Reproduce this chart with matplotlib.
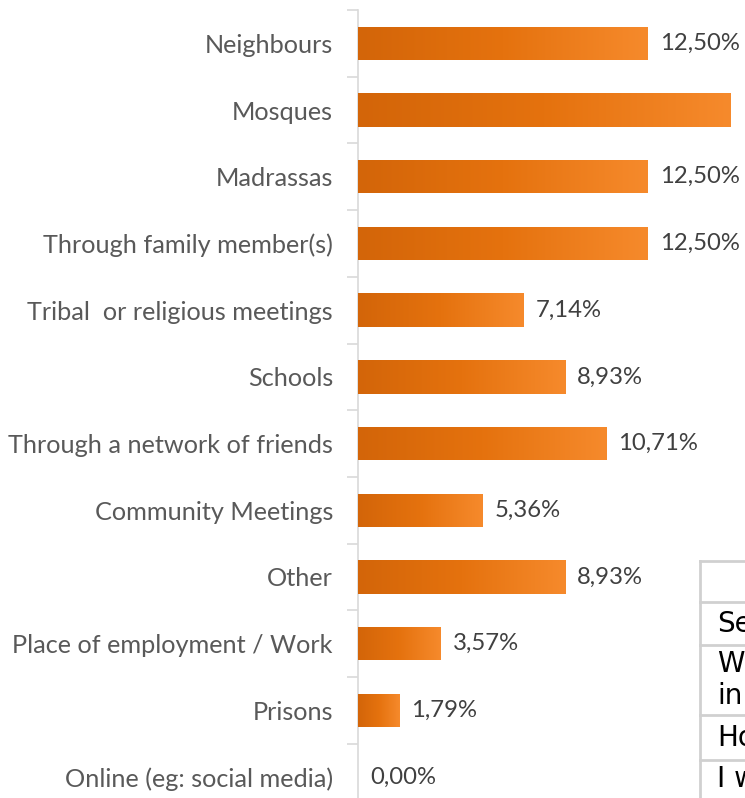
import numpy as np
import matplotlib.pyplot as plt
from matplotlib.colors import LinearSegmentedColormap

categories = ['Neighbours', 'Mosques', 'Madrassas', 'Through family member(s)',
              'Tribal  or religious meetings', 'Schools', 'Through a network of friends',
              'Community Meetings', 'Other', 'Place of employment / Work', 'Prisons',
              'Online (eg: social media)']
values = [12.50, 16.07, 12.50, 12.50, 7.14, 8.93, 10.71, 5.36, 8.93, 3.57, 1.79, 0.00]
value_labels = ['12,50%', '16,07%', '12,50%', '12,50%', '7,14%', '8,93%', '10,71%',
                '5,36%', '8,93%', '3,57%', '1,79%', '0,00%']
table_rows = ['', 'Se', 'W\nin', 'Ho', 'I w']

lab_font = 'Lato'

W, H = 745, 798
fig = plt.figure(figsize=(W / 100, H / 100), dpi=100)

# axes placed in pixel terms: axis line at x=358, rows from y=10 downward
x0 = 358
px_per_pct = 23.2
xmax = (W - x0) / px_per_pct
row = 66.7
top = 10
bottom = top + row * len(categories)
ax = fig.add_axes([x0 / W, 1 - bottom / H, (W - x0) / W, (bottom - top) / H])

pos = np.arange(len(categories))
bars = ax.barh(pos, values, height=0.5, color='#e8741a', zorder=2)

cmap = LinearSegmentedColormap.from_list('org', ['#d36509', '#e5720e', '#f68a2c'])
grad = np.linspace(0, 1, 256).reshape(1, -1)
for b in bars:
    bx, by, bw, bh = b.get_x(), b.get_y(), b.get_width(), b.get_height()
    if bw <= 0:
        continue
    im = ax.imshow(grad, extent=[bx, bx + bw, by + bh, by], aspect='auto',
                   cmap=cmap, zorder=3, interpolation='bilinear')
    im.set_clip_path(b)

off = 12 / px_per_pct
for p, v, t in zip(pos, values, value_labels):
    if v + off > xmax - 0.2:
        continue  # falls outside the visible area, as in the original
    ax.text(v + off, p, t, va='center', ha='left', fontsize=17.2,
            color='#404040', family=lab_font, clip_on=False)

ax.set_xlim(0, xmax)
ax.set_ylim(len(categories) - 0.5, -0.5)
ax.set_yticks(pos)
ax.set_yticklabels(categories, fontsize=18.2, color='#595959', family=lab_font)
ax.set_yticks(np.arange(-0.5, len(categories), 1), minor=True)
ax.tick_params(axis='y', which='major', length=0, pad=18)
ax.tick_params(axis='y', which='minor', length=8, color='#d9d9d9', width=1.2)
ax.set_xticks([])
for s in ['top', 'right', 'bottom']:
    ax.spines[s].set_visible(False)
ax.spines['left'].set_color('#d9d9d9')
ax.spines['left'].set_linewidth(1.2)

# partly visible table at lower right
lines_y = [561, 602, 645, 715, 760, 830]
for yy in lines_y[:-1]:
    fig.add_artist(plt.Line2D([700 / W, 1], [1 - yy / H] * 2, color='#d0d0d0', lw=2))
fig.add_artist(plt.Line2D([700 / W] * 2, [1 - 561 / H, 0], color='#d0d0d0', lw=2))
for i, t in enumerate(table_rows):
    yc = (lines_y[i] + min(lines_y[i + 1], H)) / 2
    fig.text(717 / W, 1 - yc / H, t, ha='left', va='center', fontsize=20,
             family='DejaVu Sans', color='black', linespacing=1.2)

fig.savefig('out.png', dpi=100)
